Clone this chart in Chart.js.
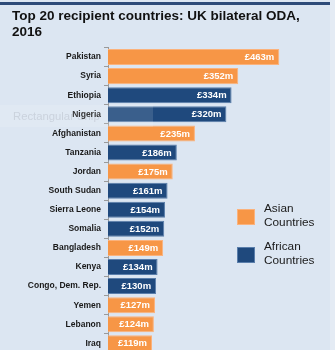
<!DOCTYPE html>
<html>
<head>
<meta charset="utf-8">
<script src="https://cdn.jsdelivr.net/npm/chart.js@4.4.1/dist/chart.umd.min.js"></script>
<style>
  html, body { margin: 0; padding: 0; background: #dce6f2; overflow: hidden; }
  #wrap { width: 335px; height: 350px; overflow: hidden; }
</style>
</head>
<body>
<div id="wrap"><canvas id="odaChart" width="335" height="361"></canvas></div>
<script>
// UK bilateral ODA 2016, £ millions
const countries = [
  "Pakistan", "Syria", "Ethiopia", "Nigeria", "Afghanistan", "Tanzania",
  "Jordan", "South Sudan", "Sierra Leone", "Somalia", "Bangladesh", "Kenya",
  "Congo, Dem. Rep.", "Yemen", "Lebanon", "Iraq"
];
const odaMillions = [463, 352, 334, 320, 235, 186, 175, 161, 154, 152, 149, 134, 130, 127, 124, 119];
const regions = [
  "Asia", "Asia", "Africa", "Africa", "Asia", "Africa",
  "Asia", "Africa", "Africa", "Africa", "Asia", "Africa",
  "Africa", "Asia", "Asia", "Asia"
];

const groups = [
  { key: "Asia", label: ["Asian", "Countries"], fill: "#f79646", edge: "#fbb27c" },
  { key: "Africa", label: ["African", "Countries"], fill: "#1f497d", edge: "#5a7eab" }
];
const groupOf = (r) => groups.find((g) => g.key === r);

// panel background + dark rule along the top
const panelBg = {
  id: "panelBg",
  beforeDraw(chart) {
    const { ctx, width, height } = chart;
    ctx.save();
    ctx.fillStyle = "#e4ebf4";
    ctx.fillRect(0, 0, width, height);
    ctx.fillStyle = "#dce6f2";
    ctx.fillRect(0, 0, 330, height);
    ctx.fillStyle = "#2d4b79";
    ctx.fillRect(0, 2, 330, 3);

    // faint snipping-tool caption, sits under the axis labels
    ctx.font = "11.3px 'Liberation Sans', Arial, sans-serif";
    ctx.textBaseline = "middle";
    ctx.fillStyle = "#c4cdd9";
    ctx.fillText("Rectangular Snip", 13, 116.5);
    ctx.restore();
  }
};

// "£123m" inside the end of each bar
const valueLabels = {
  id: "valueLabels",
  afterDatasetsDraw(chart) {
    const { ctx } = chart;
    const meta = chart.getDatasetMeta(0);
    ctx.save();
    ctx.font = "bold 9.5px 'Liberation Sans', Arial, sans-serif";
    ctx.fillStyle = "#ffffff";
    ctx.textAlign = "right";
    ctx.textBaseline = "middle";
    meta.data.forEach((bar, i) => {
      ctx.fillText("£" + odaMillions[i] + "m", bar.x - 5, bar.y + 0.5);
    });
    ctx.restore();
  }
};

// two-line legend boxes on the right side
const sideLegend = {
  id: "sideLegend",
  afterDraw(chart) {
    const { ctx } = chart;
    ctx.save();
    ctx.font = "11.8px 'Liberation Sans', Arial, sans-serif";
    ctx.textBaseline = "middle";
    ctx.textAlign = "left";
    groups.forEach((g, i) => {
      const cy = 217 + i * 38;
      ctx.fillStyle = g.fill;
      ctx.fillRect(237, cy - 8, 18, 16);
      ctx.strokeStyle = g.edge;
      ctx.lineWidth = 1;
      ctx.strokeRect(237.5, cy - 7.5, 17, 15);
      ctx.fillStyle = "#1a1a1a";
      ctx.fillText(g.label[0], 264, cy - 8);
      ctx.fillText(g.label[1], 264, cy + 6);
    });

    // translucent snip box over the left of the Nigeria row
    ctx.fillStyle = "rgba(255,255,255,0.12)";
    ctx.fillRect(0, 105, 153, 22);
    ctx.restore();
  }
};

new Chart(document.getElementById("odaChart"), {
  type: "bar",
  data: {
    labels: countries,
    datasets: [
      {
        data: odaMillions,
        backgroundColor: regions.map((r) => groupOf(r).fill),
        borderColor: regions.map((r) => groupOf(r).edge),
        borderWidth: 1,
        borderSkipped: "start",
        barPercentage: 0.84,
        categoryPercentage: 1
      }
    ]
  },
  options: {
    indexAxis: "y",
    responsive: false,
    animation: false,
    events: [],
    layout: { padding: { left: 12, right: 5, top: 0, bottom: 0 } },
    scales: {
      x: { display: false, min: 0, max: 600 },
      y: {
        afterFit(scale) { scale.width = 96; },
        grid: {
          drawOnChartArea: false,
          drawTicks: true,
          tickLength: 4,
          color: "#9a9a9a"
        },
        border: { display: true, color: "#9a9a9a" },
        ticks: {
          color: "#1a1a1a",
          padding: 3,
          font: { family: "'Liberation Sans', Arial, sans-serif", size: 8.5, weight: "bold" }
        }
      }
    },
    plugins: {
      legend: { display: false },
      tooltip: { enabled: false },
      title: {
        display: true,
        align: "start",
        text: ["Top 20 recipient countries: UK bilateral ODA,", "2016"],
        color: "#111111",
        font: { family: "'Liberation Sans', Arial, sans-serif", size: 13.5, weight: "bold", lineHeight: 1.2 },
        padding: { top: 8.4, bottom: 6.7 }
      }
    }
  },
  plugins: [panelBg, valueLabels, sideLegend]
});
</script>
</body>
</html>
